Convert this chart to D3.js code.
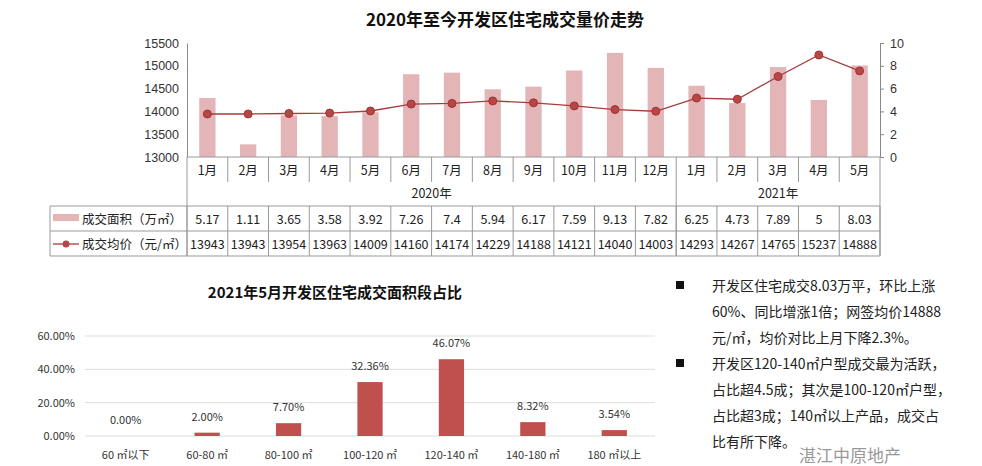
<!DOCTYPE html>
<html><head><meta charset="utf-8">
<script src="https://cdn.jsdelivr.net/npm/d3@7"></script>
<style>body{margin:0;background:#fff}svg{font-family:"Microsoft YaHei","Noto Sans CJK SC",sans-serif}</style>
</head><body><svg id="c" width="982" height="466"></svg>
<script>
const months=["1月","2月","3月","4月","5月","6月","7月","8月","9月","10月","11月","12月","1月","2月","3月","4月","5月"];
const area=[5.17,1.11,3.65,3.58,3.92,7.26,7.4,5.94,6.17,7.59,9.13,7.82,6.25,4.73,7.89,5,8.03];
const price=[13943,13943,13954,13963,14009,14160,14174,14229,14188,14121,14040,14003,14293,14267,14765,15237,14888];
const years=[{label:"2020年",from:0,to:12},{label:"2021年",from:12,to:17}];
const leftTicks=[13000,13500,14000,14500,15000,15500];
const rightTicks=[0,2,4,6,8,10];
const segs=["60 ㎡以下","60-80 ㎡","80-100 ㎡","100-120 ㎡","120-140 ㎡","140-180 ㎡","180 ㎡以上"];
const shares=[0,2.00,7.70,32.36,46.07,8.32,3.54];
const shareTicks=[0,20,40,60];
const notes=[["开发区住宅成交8.03万平，环比上涨","60%、同比增涨1倍；网签均价14888","元/㎡，均价对比上月下降2.3%。"],["开发区120-140㎡户型成交最为活跃，","占比超4.5成；其次是100-120㎡户型，","占比超3成；140㎡以上产品，成交占","比有所下降。"]];

const svg=d3.select("#c");
const X0=187,X1=880;
const x=d3.scaleBand().domain(d3.range(17)).range([X0,X1]);
const yL=d3.scaleLinear().domain([13000,15500]).range([157,43]);
const yR=d3.scaleLinear().domain([0,10]).range([157,43]);
svg.append("text").attr("x",505).attr("y",26).attr("text-anchor","middle").attr("font-size",17).attr("font-weight","bold").attr("fill","#111").text("2020年至今开发区住宅成交量价走势");
const gl=svg.append("g").attr("transform",`translate(${X0},0)`).call(d3.axisLeft(yL).tickValues(leftTicks).tickFormat(d3.format("d")).tickSize(0).tickPadding(8));
gl.select(".domain").attr("stroke","#888");
gl.selectAll("text").attr("font-size",12.5).attr("fill","#333");
const gr=svg.append("g").attr("transform",`translate(${X1},0)`).call(d3.axisRight(yR).tickValues(rightTicks).tickSize(4).tickPadding(6));
gr.selectAll("path,line").attr("stroke","#888");
gr.selectAll("text").attr("font-size",12.5).attr("fill","#333");
const bw=x.bandwidth()*0.4;
svg.selectAll(".b").data(area).join("rect").attr("x",(d,i)=>x(i)+x.bandwidth()/2-bw/2).attr("y",d=>yR(d)).attr("width",bw).attr("height",d=>157-yR(d)).attr("fill","#e3b5b7");
const cx=i=>x(i)+x.bandwidth()/2;
svg.append("path").datum(price).attr("d",d3.line().x((d,i)=>cx(i)).y(d=>yL(d))).attr("fill","none").attr("stroke","#a83c3c").attr("stroke-width",1.3);
svg.selectAll(".p").data(price).join("circle").attr("cx",(d,i)=>cx(i)).attr("cy",d=>yL(d)).attr("r",4).attr("fill","#b84646").attr("stroke","#a03333");
const ln=(x1,y1,x2,y2)=>svg.append("line").attr("x1",x1).attr("y1",y1).attr("x2",x2).attr("y2",y2).attr("stroke","#999").attr("stroke-width",1);
ln(X0,157,X1,157);
d3.range(18).forEach(i=>{const xx=i<17?x(i):X1; ln(xx,157,xx,(i==0||i==12||i==17)?256:182);});
d3.range(18).forEach(i=>{const xx=i<17?x(i):X1; ln(xx,206,xx,256);});
ln(X0,206,X1,206);ln(50,206,X0,206);ln(50,231,X1,231);ln(50,256,X1,256);ln(50,206,50,256);
const T=(t,xx,yy,s,a,c)=>svg.append("text").attr("x",xx).attr("y",yy).attr("font-size",s).attr("text-anchor",a||"middle").attr("fill",c||"#222").text(t);
months.forEach((m,i)=>T(m,cx(i),175,12.5));
years.forEach(y=>T(y.label,(x(y.from)+(y.to<17?x(y.to):X1))/2,198,12.5));
area.forEach((v,i)=>T(v,cx(i),224,12.5));
price.forEach((v,i)=>T(v,cx(i),249,12.5));
svg.append("rect").attr("x",53).attr("y",214).attr("width",26).attr("height",7).attr("fill","#e3b5b7");
T("成交面积（万㎡）",82,224,12.5,"start");
ln(53,244,79,244).attr("stroke","#a83c3c").attr("stroke-width",1.3);
svg.append("circle").attr("cx",66).attr("cy",244).attr("r",3.5).attr("fill","#b84646");
T("成交均价（元/㎡）",82,249,12.5,"start");
const bx=d3.scaleBand().domain(d3.range(7)).range([85,655]);
const by=d3.scaleLinear().domain([0,60]).range([436,336]);
T("2021年5月开发区住宅成交面积段占比",335,298,15,"middle","#111").attr("font-weight","bold");
shareTicks.forEach(t=>{ln(85,by(t),655,by(t)).attr("stroke","#ddd");T(t.toFixed(2)+"%",75,by(t)+4,11,"end","#333");});
const bb=bx.bandwidth()*0.31;
svg.selectAll(".s").data(shares).join("rect").attr("x",(d,i)=>bx(i)+bx.bandwidth()/2-bb/2).attr("y",d=>by(d)).attr("width",bb).attr("height",d=>436-by(d)).attr("fill","#c0504d");
shares.forEach((v,i)=>T(v.toFixed(2)+"%",bx(i)+bx.bandwidth()/2,by(v)-12,11,"middle","#333"));
segs.forEach((s,i)=>T(s,bx(i)+bx.bandwidth()/2,459,11,"middle","#333"));
let yy=291;
notes.forEach(p=>{svg.append("rect").attr("x",676).attr("y",yy-10).attr("width",8).attr("height",8).attr("fill","#111");
 p.forEach(l=>{T(l,712,yy,14,"start","#222");yy+=26;});});
T("湛江中原地产",850,462,17,"middle","#999");
</script></body></html>
